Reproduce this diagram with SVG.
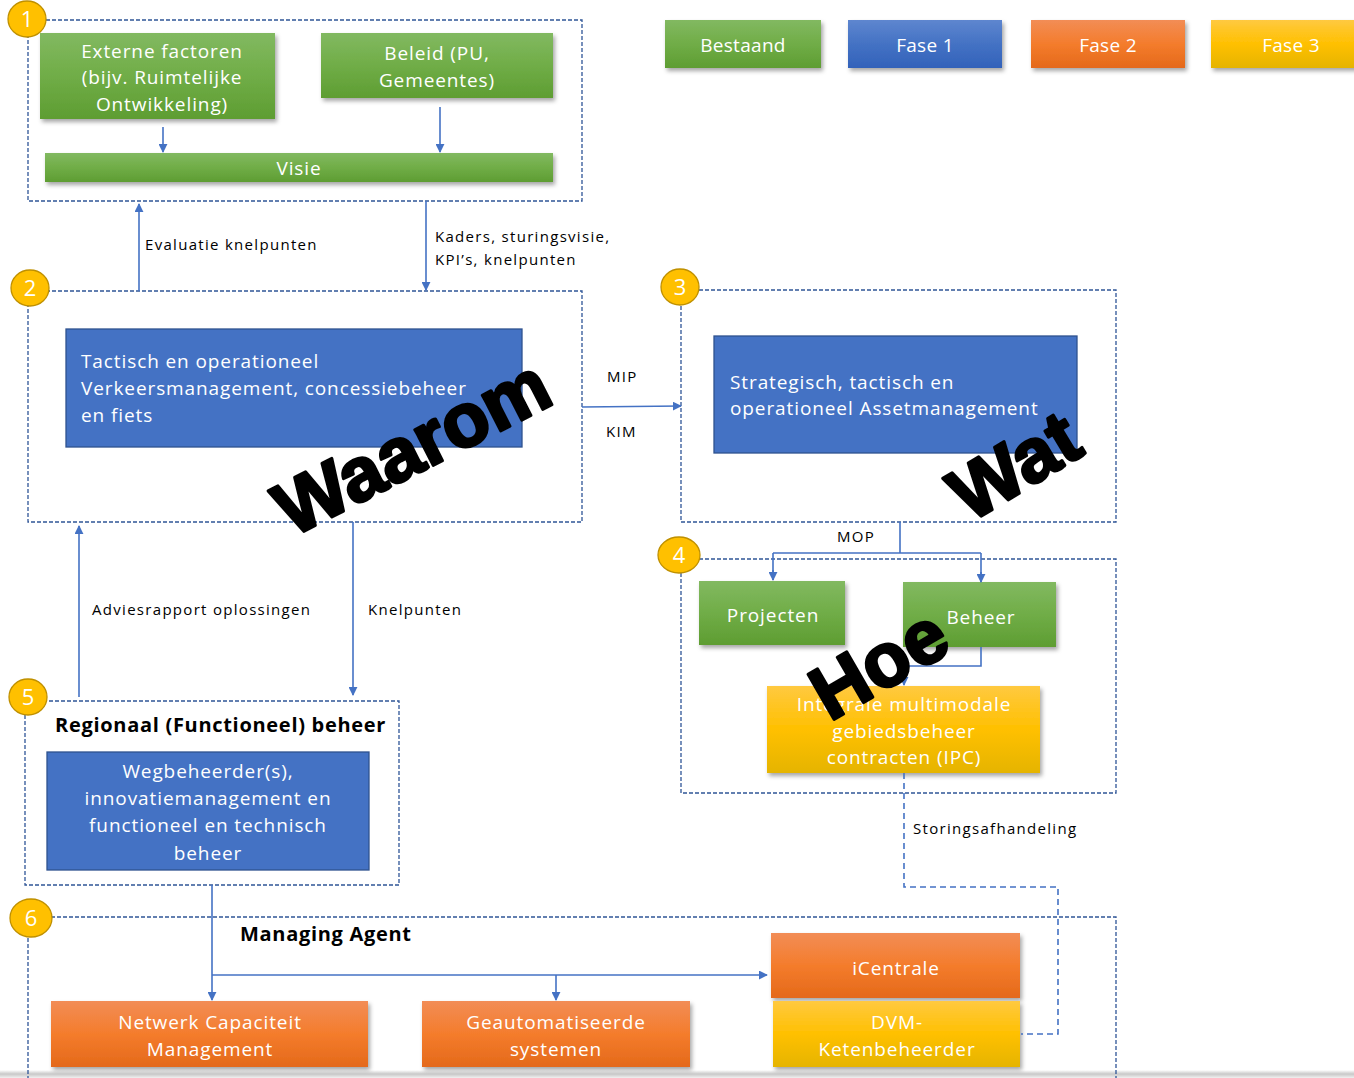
<svg xmlns="http://www.w3.org/2000/svg" width="1354" height="1078" viewBox="0 0 1354 1078">
<defs>
<linearGradient id="gG" x1="0" y1="0" x2="0" y2="1"><stop offset="0" stop-color="#82B961"/><stop offset="0.5" stop-color="#70AD47"/><stop offset="1" stop-color="#5E9D32"/></linearGradient>
<linearGradient id="gB" x1="0" y1="0" x2="0" y2="1"><stop offset="0" stop-color="#5E86CF"/><stop offset="0.5" stop-color="#4472C4"/><stop offset="1" stop-color="#3262BA"/></linearGradient>
<linearGradient id="gO" x1="0" y1="0" x2="0" y2="1"><stop offset="0" stop-color="#F28D56"/><stop offset="0.5" stop-color="#F47C2C"/><stop offset="1" stop-color="#E4691A"/></linearGradient>
<linearGradient id="gY" x1="0" y1="0" x2="0" y2="1"><stop offset="0" stop-color="#FFC940"/><stop offset="0.5" stop-color="#FFC000"/><stop offset="1" stop-color="#E5B400"/></linearGradient>
<linearGradient id="gL" x1="0" y1="0" x2="0" y2="1"><stop offset="0" stop-color="#FFFFFF"/><stop offset="0.5" stop-color="#C8C8C8"/><stop offset="1" stop-color="#F0F0F0"/></linearGradient>
<filter id="sh" x="-10%" y="-10%" width="125%" height="140%"><feDropShadow dx="2" dy="3" stdDeviation="2" flood-color="#000" flood-opacity="0.35"/></filter>
<marker id="ar" viewBox="0 0 10 10" refX="9" refY="5" markerWidth="9" markerHeight="9" markerUnits="userSpaceOnUse" orient="auto"><path d="M0,0 L10,5 L0,10 z" fill="#4472C4"/></marker>
<style>
.grp{fill:none;stroke:#2F5597;stroke-width:1.3;stroke-dasharray:4 2}
.c{fill:none;stroke:#4472C4;stroke-width:1.6}
.cd{fill:none;stroke:#4472C4;stroke-width:1.6;stroke-dasharray:6 4}
.t{font-family:"Open Sans","Liberation Sans",Arial,sans-serif;font-size:19px;fill:#fff;text-anchor:middle;letter-spacing:0.9px}
.tl{font-family:"Open Sans","Liberation Sans",Arial,sans-serif;font-size:19px;fill:#fff;letter-spacing:0.9px}
.lg{font-family:"Open Sans","Liberation Sans",Arial,sans-serif;font-size:19px;fill:#fff;text-anchor:middle;letter-spacing:0.3px}
.lab{font-family:"Open Sans","Liberation Sans",Arial,sans-serif;font-size:15px;fill:#000;letter-spacing:1.3px}
.hd{font-family:"Open Sans","Liberation Sans",Arial,sans-serif;font-size:20px;font-weight:bold;fill:#000;letter-spacing:0.7px}
.big{font-family:"Liberation Sans",Arial,sans-serif;font-size:76px;font-weight:bold;fill:#000;stroke:#000;stroke-width:3;stroke-linejoin:round;text-anchor:middle}
.num{fill:#FFC000;stroke:#BF9000;stroke-width:1.3}
.nt{font-family:"Open Sans","Liberation Sans",Arial,sans-serif;font-size:22px;fill:#fff;text-anchor:middle}
.flat{fill:#4472C4;stroke:#2F528F;stroke-width:1.3}
</style>
</defs>
<rect width="1354" height="1078" fill="#fff"/>
<rect x="0" y="1070" width="1354" height="8" fill="url(#gL)"/>

<g id="legend">
<g id="leg-bestaand"><rect x="665" y="20" width="156" height="48" fill="url(#gG)" filter="url(#sh)"/><text class="lg" x="743" y="52">Bestaand</text></g>
<g id="leg-fase1"><rect x="848" y="20" width="154" height="48" fill="url(#gB)" filter="url(#sh)"/><text class="lg" x="925" y="52">Fase 1</text></g>
<g id="leg-fase2"><rect x="1031" y="20" width="154" height="48" fill="url(#gO)" filter="url(#sh)"/><text class="lg" x="1108" y="52">Fase 2</text></g>
<g id="leg-fase3"><rect x="1211" y="20" width="150" height="48" fill="url(#gY)" filter="url(#sh)"/><text class="lg" x="1291" y="52">Fase 3</text></g>
</g>

<g id="group1">
<rect class="grp" x="28" y="20" width="554" height="181"/>
<g id="externe"><rect x="40" y="33" width="235" height="86" fill="url(#gG)" filter="url(#sh)"/>
<text class="t" x="162" y="58">Externe factoren</text><text class="t" x="162" y="84">(bijv. Ruimtelijke</text><text class="t" x="162" y="111">Ontwikkeling)</text></g>
<g id="beleid"><rect x="321" y="33" width="232" height="65" fill="url(#gG)" filter="url(#sh)"/>
<text class="t" x="437" y="60">Beleid (PU,</text><text class="t" x="437" y="87">Gemeentes)</text></g>
<g id="visie"><rect x="45" y="153" width="508" height="29" fill="url(#gG)" filter="url(#sh)"/>
<text class="t" x="299" y="175">Visie</text></g>
<g id="n1"><ellipse class="num" cx="27" cy="19" rx="19" ry="18"/><text class="nt" x="27" y="27">1</text></g>
</g>

<g id="group2">
<rect class="grp" x="28" y="291" width="554" height="231"/>
<g id="tactisch"><rect class="flat" x="66" y="329" width="456" height="118"/>
<text class="tl" x="81" y="368">Tactisch en operationeel</text><text class="tl" x="81" y="395">Verkeersmanagement,  concessiebeheer</text><text class="tl" x="81" y="422">en fiets</text></g>
<g id="n2"><ellipse class="num" cx="30" cy="288" rx="19" ry="18"/><text class="nt" x="30" y="296">2</text></g>
</g>

<g id="group3">
<rect class="grp" x="681" y="290" width="435" height="232"/>
<g id="strategisch"><rect class="flat" x="714" y="336" width="363" height="117"/>
<text class="tl" x="730" y="389">Strategisch, tactisch en</text><text class="tl" x="730" y="415">operationeel  Assetmanagement</text></g>
<g id="n3"><ellipse class="num" cx="680" cy="287" rx="19" ry="18"/><text class="nt" x="680" y="295">3</text></g>
</g>

<g id="group4">
<rect class="grp" x="681" y="559" width="435" height="234"/>
<g id="projecten"><rect x="699" y="581" width="146" height="64" fill="url(#gG)" filter="url(#sh)"/><text class="t" x="773" y="622">Projecten</text></g>
<g id="beheer"><rect x="903" y="582" width="153" height="65" fill="url(#gG)" filter="url(#sh)"/><text class="t" x="981" y="624">Beheer</text></g>
<g id="ipc"><rect x="767" y="686" width="273" height="87" fill="url(#gY)" filter="url(#sh)"/>
<text class="t" x="904" y="711">Integrale multimodale</text><text class="t" x="904" y="738">gebiedsbeheer</text><text class="t" x="904" y="764">contracten (IPC)</text></g>
<g id="n4"><ellipse class="num" cx="679" cy="555" rx="21" ry="18"/><text class="nt" x="679" y="563">4</text></g>
</g>

<g id="group5">
<rect class="grp" x="25" y="701" width="374" height="184"/>
<text class="hd" x="55" y="732">Regionaal (Functioneel) beheer</text>
<g id="wegbeheerder"><rect class="flat" x="47" y="752" width="322" height="118"/>
<text class="t" x="208" y="778">Wegbeheerder(s),</text><text class="t" x="208" y="805">innovatiemanagement en</text><text class="t" x="208" y="832">functioneel en technisch</text><text class="t" x="208" y="860">beheer</text></g>
<g id="n5"><ellipse class="num" cx="28" cy="697" rx="19" ry="18"/><text class="nt" x="28" y="705">5</text></g>
</g>

<g id="group6">
<path class="grp" d="M28,1080 V917 H1116 V1080"/>
<text class="hd" x="240" y="941">Managing Agent</text>
<g id="netwerk"><rect x="51" y="1001" width="317" height="66" fill="url(#gO)" filter="url(#sh)"/>
<text class="t" x="210" y="1029">Netwerk Capaciteit</text><text class="t" x="210" y="1056">Management</text></g>
<g id="geautomatiseerde"><rect x="422" y="1001" width="268" height="66" fill="url(#gO)" filter="url(#sh)"/>
<text class="t" x="556" y="1029">Geautomatiseerde</text><text class="t" x="556" y="1056">systemen</text></g>
<g id="icentrale"><rect x="771" y="933" width="249" height="65" fill="url(#gO)" filter="url(#sh)"/><text class="t" x="896" y="975">iCentrale</text></g>
<g id="dvm"><rect x="773" y="1001" width="247" height="66" fill="url(#gY)" filter="url(#sh)"/>
<text class="t" x="897" y="1029">DVM-</text><text class="t" x="897" y="1056">Ketenbeheerder</text></g>
<g id="n6"><ellipse class="num" cx="31" cy="918" rx="21" ry="19"/><text class="nt" x="31" y="926">6</text></g>
</g>

<g id="connectors">
<path class="c" d="M163,127 V152" marker-end="url(#ar)"/>
<path class="c" d="M440,107 V152" marker-end="url(#ar)"/>
<path class="c" d="M139,291 V204" marker-end="url(#ar)"/>
<path class="c" d="M426,201 V290" marker-end="url(#ar)"/>
<path class="c" d="M582,407 L681,406" marker-end="url(#ar)"/>
<path class="c" d="M900,522 V553 M773,553 H981 M773,553 V580 M981,553 V582" />
<path class="c" d="M773,570 V580" marker-end="url(#ar)"/>
<path class="c" d="M981,572 V582" marker-end="url(#ar)"/>
<path class="c" d="M981,647 V666 H904 V685" marker-end="url(#ar)"/>
<path class="c" d="M79,697 V526" marker-end="url(#ar)"/>
<path class="c" d="M353,522 V695" marker-end="url(#ar)"/>
<path class="c" d="M212,885 V1000" marker-end="url(#ar)"/>
<path class="c" d="M212,975 H767" marker-end="url(#ar)"/>
<path class="c" d="M556,975 V1000" marker-end="url(#ar)"/>
<path class="cd" d="M904,773 V887 H1058 V1034 H1021"/>
<text class="lab" x="145" y="250" letter-spacing="0.9">Evaluatie knelpunten</text>
<text class="lab" x="435" y="242">Kaders, sturingsvisie,</text>
<text class="lab" x="435" y="265">KPI’s, knelpunten</text>
<text class="lab" x="607" y="382">MIP</text>
<text class="lab" x="606" y="437">KIM</text>
<text class="lab" x="837" y="542">MOP</text>
<text class="lab" x="92" y="615">Adviesrapport oplossingen</text>
<text class="lab" x="368" y="615">Knelpunten</text>
<text class="lab" x="913" y="834">Storingsafhandeling</text>
</g>

<g id="watermarks">
<text class="big" transform="translate(424,470) rotate(-27)">Waarom</text>
<text class="big" transform="translate(1028,488) rotate(-31)">Wat</text>
<text class="big" transform="translate(892,686) rotate(-30)">Hoe</text>
</g>
</svg>
